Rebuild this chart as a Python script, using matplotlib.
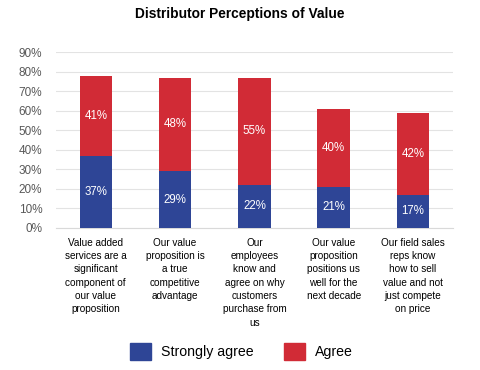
import matplotlib
matplotlib.use('Agg')
import matplotlib.pyplot as plt
import matplotlib.ticker as mticker
from matplotlib.patches import Patch
import numpy as np

plt.rcParams.update({
    'font.family': ['Liberation Sans', 'DejaVu Sans'],
})

C_STRONG = '#2E4596'
C_AGREE = '#D12B36'

categories = [
    'Value added\nservices are a\nsignificant\ncomponent of\nour value\nproposition',
    'Our value\nproposition is\na true\ncompetitive\nadvantage',
    'Our\nemployees\nknow and\nagree on why\ncustomers\npurchase from\nus',
    'Our value\nproposition\npositions us\nwell for the\nnext decade',
    'Our field sales\nreps know\nhow to sell\nvalue and not\njust compete\non price',
]
strongly_agree = [37, 29, 22, 21, 17]
agree = [41, 48, 55, 40, 42]
series_names = ['Strongly agree', 'Agree']

fig = plt.figure(figsize=(4.8, 3.7), dpi=100)
ax = fig.add_axes([0.117, 0.384, 0.826, 0.475])

x = np.arange(len(categories))
sa = np.array(strongly_agree) / 100
ag = np.array(agree) / 100
w = 0.41

ax.bar(x, sa, w, color=C_STRONG, zorder=3)
ax.bar(x, ag, w, bottom=sa, color=C_AGREE, zorder=3)

for i in range(len(x)):
    ax.text(x[i], sa[i] / 2, f'{strongly_agree[i]}%', ha='center', va='center',
            color='white', fontsize=8.3)
    ax.text(x[i], sa[i] + ag[i] / 2, f'{agree[i]}%', ha='center', va='center',
            color='white', fontsize=8.3)

ax.set_ylim(0, 0.9)
ax.set_xlim(-0.5, len(x) - 0.5)
ax.set_yticks(np.arange(0, 0.91, 0.1))
ax.yaxis.set_major_formatter(mticker.FuncFormatter(lambda v, _: f'{v*100:.0f}%'))
ax.grid(axis='y', color='#E3E3E3', lw=0.8, zorder=0)
for s in ax.spines.values():
    s.set_visible(False)
ax.spines['bottom'].set_visible(True)
ax.spines['bottom'].set_color('#D9D9D9')
ax.tick_params(axis='y', length=0, labelsize=8.5, labelcolor='#595959', pad=10)
ax.tick_params(axis='x', length=0, pad=7)
ax.set_xticks(x)
ax.set_xticklabels(categories, fontsize=7.2, color='black', linespacing=1.42, va='top')

fig.text(0.5, 0.963, 'Distributor Perceptions of Value', ha='center', va='center',
         fontsize=9.9, fontweight='bold')

handles = [Patch(color=C_STRONG), Patch(color=C_AGREE)]
fig.legend(handles, series_names, loc='center', bbox_to_anchor=(0.503, 0.05), ncol=2,
           frameon=False, fontsize=10.2, handlelength=1.5, handleheight=1.5,
           columnspacing=2.1, handletextpad=0.7)

fig.savefig('out.png', dpi=100, facecolor='white')
